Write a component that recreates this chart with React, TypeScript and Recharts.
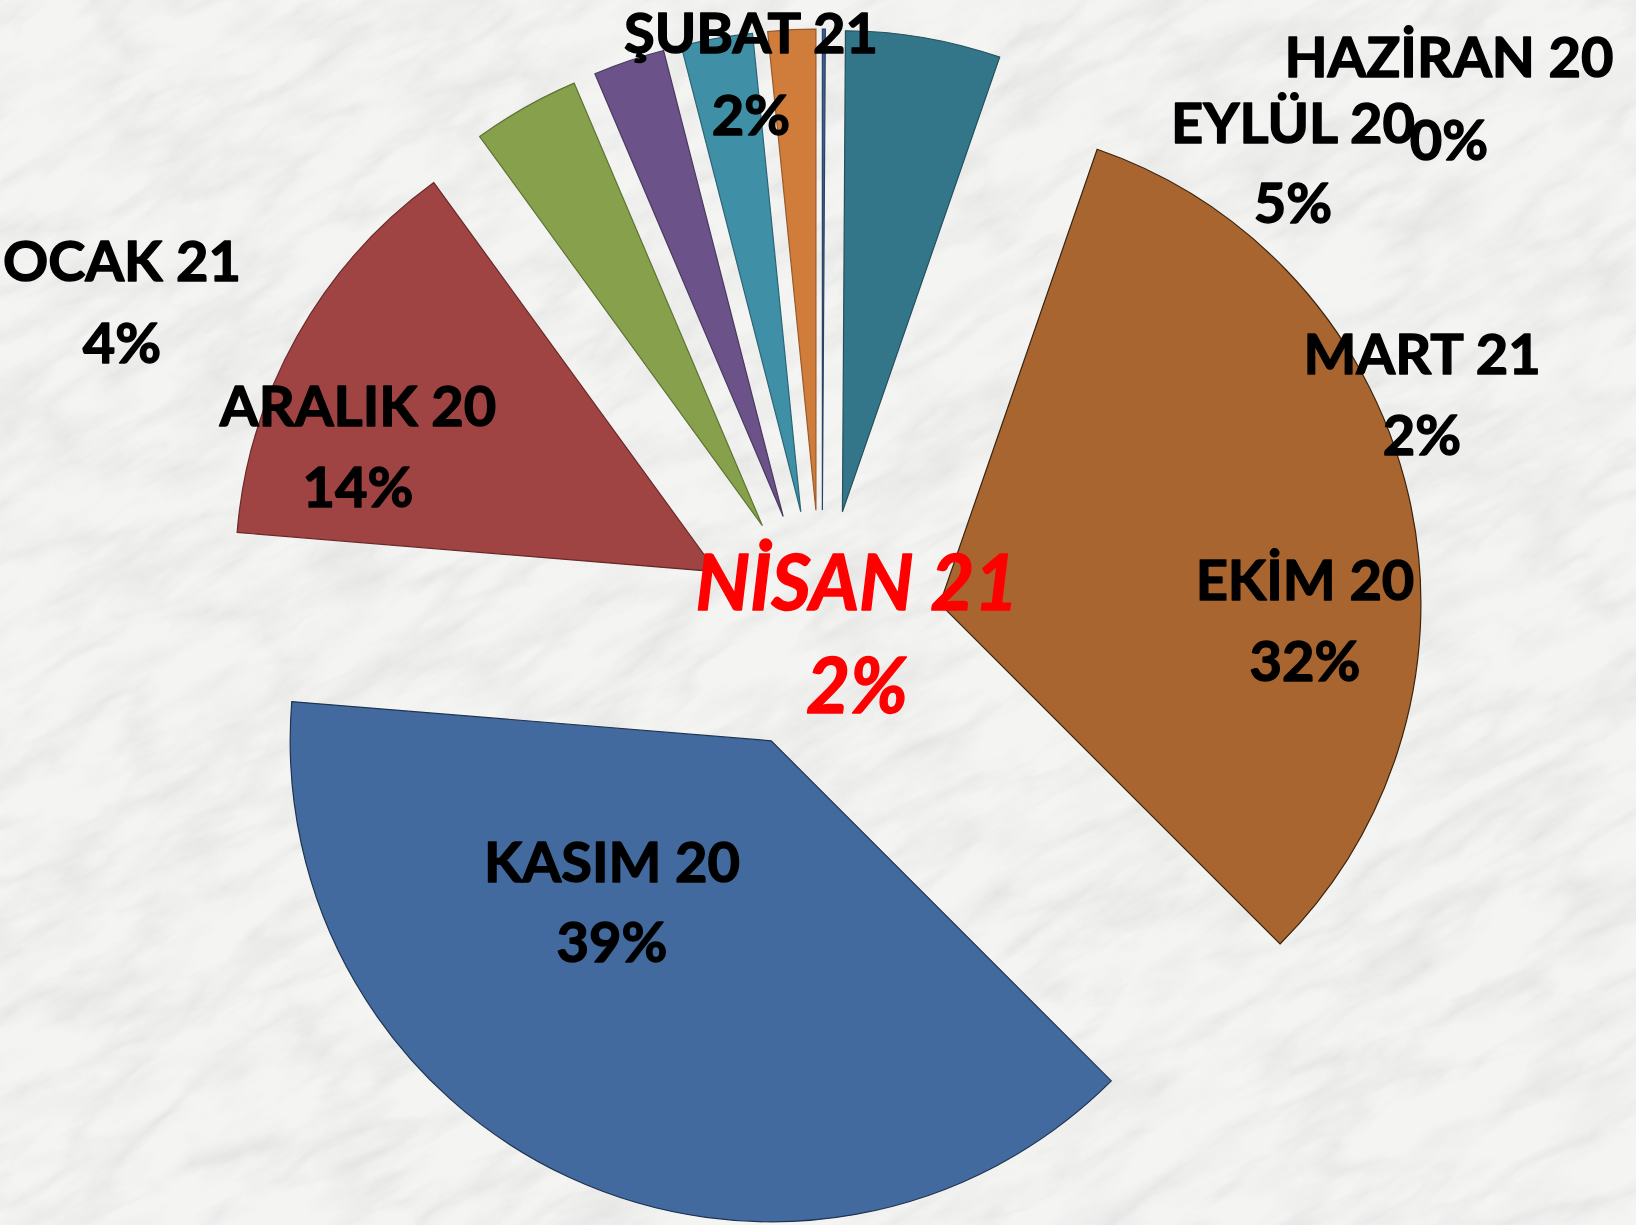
import React from 'react';
import { PieChart, Pie, Cell } from 'recharts';

// ---- data ----
const months = ['HAZİRAN 20', 'EYLÜL 20', 'EKİM 20', 'KASIM 20', 'ARALIK 20', 'OCAK 21', 'ŞUBAT 21', 'MART 21', 'NİSAN 21'];
const shares = [0.1, 5.2, 32.2, 38.8, 13.7, 3.6, 2.4, 2.4, 1.6];

// ---- styles ----
const sliceColors = ['#3E5F8E', '#337689', '#A8652F', '#436A9E', '#A04343', '#86A04B', '#6B5389', '#3F90A7', '#D07D3C'];
const edgeColors = ['#2A4468', '#24505D', '#3A2410', '#1E3350', '#6A2A2A', '#5E7334', '#4A395F', '#2C6575', '#9A5A2A'];

const W = 1636;
const H = 1225;
const CX = 822;
const CY = 631;
const R = 481;
const EXPLODE = 121;

// label layout relative to pie centre: [dx, dy of first baseline, gap to second line]
const labelLayout = [
  { dx: 627, dy: -554, gap: 83 },
  { dx: 471, dy: -488, gap: 80 },
  { dx: 483, dy: -31, gap: 81 },
  { dx: -210, dy: 251, gap: 80 },
  { dx: -464, dy: -205, gap: 81 },
  { dx: -700, dy: -350, gap: 82 },
  { dx: -71, dy: -578, gap: 82 },
  { dx: 600, dy: -257, gap: 81 },
  { dx: 35, dy: -21, gap: 103 },
];

const data = months.map((name, i) => ({ name, value: shares[i] }));
const total = shares.reduce((a, b) => a + b, 0);

// mid angle of each slice (recharts degrees, start at 12 o'clock, clockwise)
const midAngles: number[] = [];
{
  let start = 90;
  shares.forEach((v) => {
    const span = (v / total) * 360;
    midAngles.push(start - span / 2);
    start -= span;
  });
}

const FONT = 'Lato, "Open Sans", sans-serif';

const renderLabel = (props: any) => {
  const { cx, cy, index } = props;
  const pos = labelLayout[index];
  const pct = Math.round((shares[index] / total) * 100);
  const highlight = index === months.length - 1;
  const x = cx + pos.dx;
  const color = highlight ? '#FF0000' : '#000000';
  return (
    <text
      key={`lbl-${index}`}
      x={x}
      y={cy + pos.dy}
      textAnchor="middle"
      fontFamily={FONT}
      fontWeight={700}
      fontStyle={highlight ? 'italic' : 'normal'}
      fontSize={highlight ? 76 : 56}
      fill={color}
      stroke={color}
      strokeWidth={1.4}
      strokeLinejoin="round"
    >
      <tspan x={x}>{months[index]}</tspan>
      <tspan x={x} dy={pos.gap}>{pct}%</tspan>
    </text>
  );
};

const Marble = () => (
  <svg width={W} height={H} style={{ position: 'absolute', left: 0, top: 0 }}>
    <defs>
      <filter id="marbleVeins" x="0" y="0" width="100%" height="100%">
        <feTurbulence type="turbulence" baseFrequency="0.006 0.018" numOctaves={5} seed={7} />
        <feColorMatrix
          type="matrix"
          values="0 0 0 0 0.55  0 0 0 0 0.55  0 0 0 0 0.55  -1.6 0 0 0 0.55"
        />
      </filter>
      <filter id="marbleCloud" x="0" y="0" width="100%" height="100%">
        <feTurbulence type="fractalNoise" baseFrequency="0.01 0.03" numOctaves={4} seed={3} />
        <feColorMatrix
          type="matrix"
          values="0 0 0 0 0.6  0 0 0 0 0.6  0 0 0 0 0.6  1.0 0 0 0 -0.45"
        />
      </filter>
    </defs>
    <rect x={0} y={0} width={W} height={H} fill="#F4F4F3" />
    <g transform={`rotate(-30 ${W / 2} ${H / 2})`}>
      <rect x={-600} y={-600} width={W + 1200} height={H + 1200} filter="url(#marbleCloud)" opacity={0.5} />
      <rect x={-600} y={-600} width={W + 1200} height={H + 1200} filter="url(#marbleVeins)" opacity={0.4} />
    </g>
  </svg>
);

export default function App() {
  return (
    <div style={{ position: 'absolute', left: 0, top: 0, width: W, height: H, overflow: 'hidden' }}>
      <Marble />
      <div style={{ position: 'absolute', left: 0, top: 0 }}>
        <PieChart width={W} height={H} margin={{ top: 0, right: 0, bottom: 0, left: 0 }}>
          {data.map((_, target) => {
            const a = (midAngles[target] * Math.PI) / 180;
            const ox = EXPLODE * Math.cos(a);
            const oy = -EXPLODE * Math.sin(a);
            return (
              <Pie
                key={`slice-${target}`}
                data={data}
                dataKey="value"
                nameKey="name"
                cx={CX + ox}
                cy={CY + oy}
                innerRadius={0}
                outerRadius={R}
                startAngle={90}
                endAngle={-270}
                isAnimationActive={false}
                labelLine={false}
                label={false}
              >
                {data.map((__, i) => (
                  <Cell
                    key={`c-${target}-${i}`}
                    fill={i === target ? sliceColors[i] : 'none'}
                    stroke={i === target ? edgeColors[i] : 'none'}
                    strokeWidth={i === target ? 1.2 : 0}
                  />
                ))}
              </Pie>
            );
          })}
          <Pie
            key="labels"
            data={data}
            dataKey="value"
            nameKey="name"
            cx={CX}
            cy={CY}
            innerRadius={0}
            outerRadius={R}
            startAngle={90}
            endAngle={-270}
            isAnimationActive={false}
            labelLine={false}
            label={renderLabel}
          >
            {data.map((__, i) => (
              <Cell key={`l-${i}`} fill="none" stroke="none" />
            ))}
          </Pie>
        </PieChart>
      </div>
    </div>
  );
}
